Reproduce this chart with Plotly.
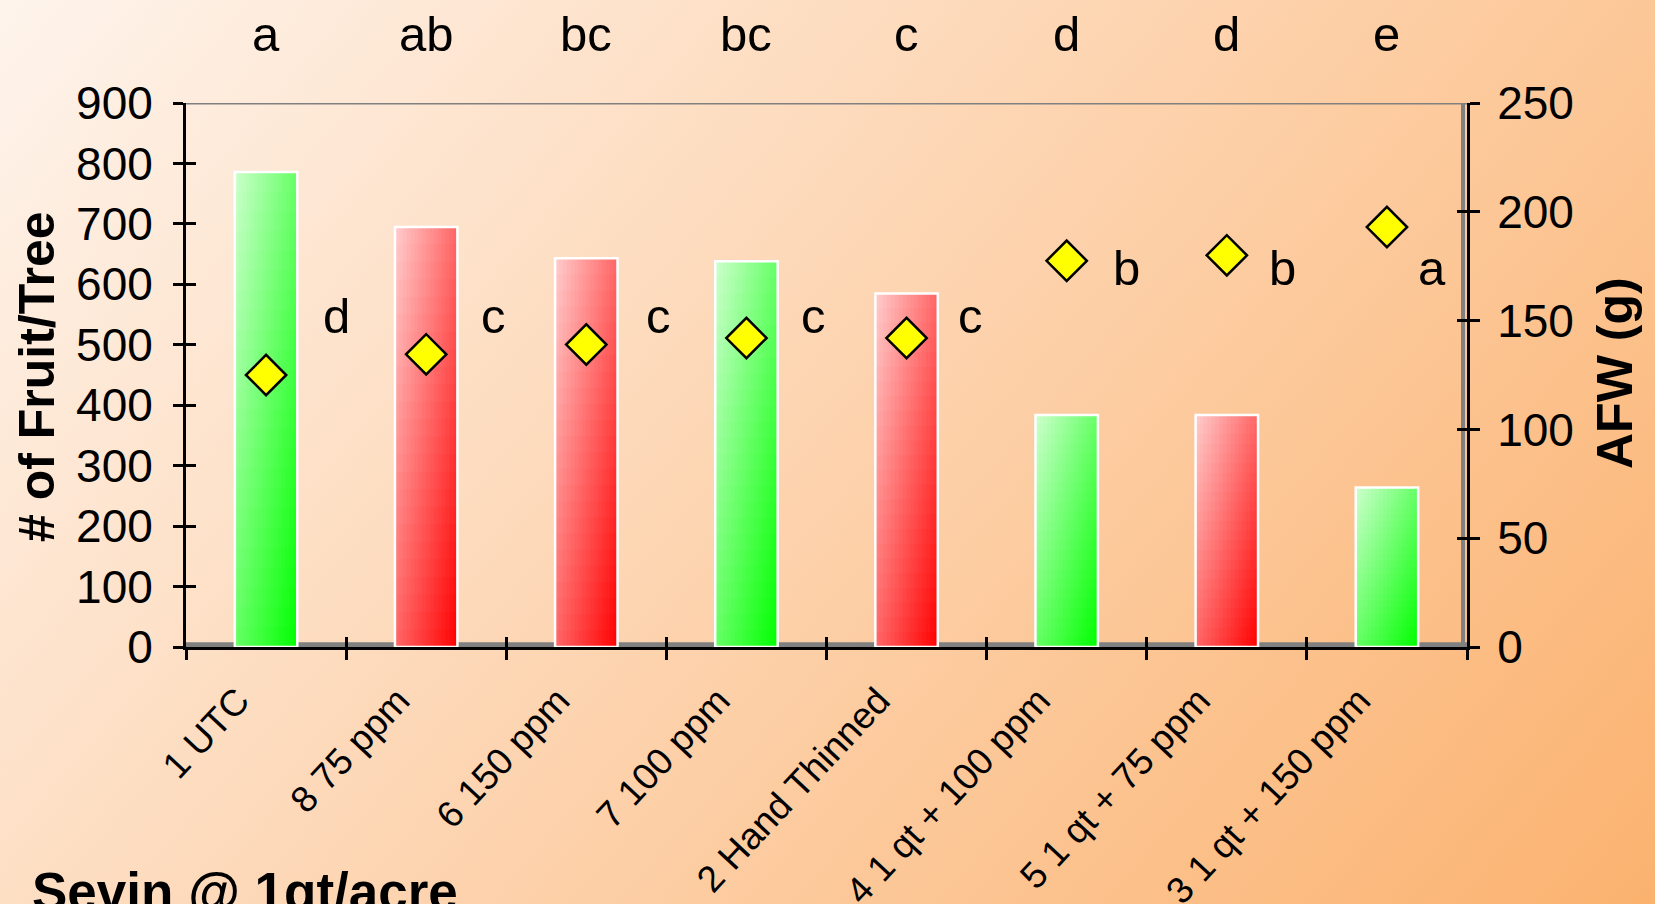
import base64
import plotly.graph_objects as go

# ---------------- data ----------------
categories = ["1 UTC", "8 75 ppm", "6 150 ppm", "7 100 ppm", "2 Hand Thinned",
              "4 1 qt + 100 ppm", "5 1 qt + 75 ppm", "3 1 qt + 150 ppm"]
fruit_per_tree = [786, 695, 643, 638, 585, 384, 384, 264]
afw_g = [125, 134.5, 139, 142, 142, 177.5, 180, 193]
fruit_letters = ["a", "ab", "bc", "bc", "c", "d", "d", "e"]
afw_letters = ["d", "c", "c", "c", "c", "b", "b", "a"]
bar_kind = ["green", "red", "red", "green", "red", "green", "red", "green"]
left_ticks = [0, 100, 200, 300, 400, 500, 600, 700, 800, 900]
right_ticks = [0, 50, 100, 150, 200, 250]

# ---------------- style ----------------
W, H = 1655, 904
ML, MR, MT, MB = 186, 188, 103, 257
PW, PH = W - ML - MR, H - MT - MB
FONT = "Liberation Sans, Arial, sans-serif"
BAR_W = 0.39
N_STRIPES, N_SEGS = 16, 24
LIGHT = {"green": (205, 255, 205), "red": (255, 205, 205)}
FULL = {"green": (0, 255, 0), "red": (255, 0, 0)}
AFW_LABEL_DX = [0.44, 0.42, 0.45, 0.42, 0.40, 0.375, 0.35, 0.28]
AFW_LABEL_Y = [152, 152, 152, 152, 152, 174, 174, 174]


def mix(kind, t):
    a, b = LIGHT[kind], FULL[kind]
    return "rgb(%d,%d,%d)" % tuple(round(a[j] + (b[j] - a[j]) * t) for j in range(3))


fig = go.Figure()

# gradient bars built from stripes x segments (slight overlap hides seams)
sw = BAR_W / N_STRIPES
for i in range(N_STRIPES):
    u = (i + 0.5) / N_STRIPES
    w_i = sw if i == N_STRIPES - 1 else sw * 1.2
    for k in range(N_SEGS):
        v = 1 - (k + 0.5) / N_SEGS  # 0 top, 1 bottom
        t = (u + v) / 2
        grow = 1.0 if k == N_SEGS - 1 else 1.1
        fig.add_trace(go.Bar(
            x=categories,
            y=[val / N_SEGS * grow for val in fruit_per_tree],
            base=[val * k / N_SEGS for val in fruit_per_tree],
            width=w_i,
            offset=-BAR_W / 2 + i * sw,
            marker=dict(color=[mix(kd, t) for kd in bar_kind], line=dict(width=0)),
            hoverinfo="skip", showlegend=False,
        ))

# white outline of each bar
fig.add_trace(go.Bar(
    x=categories, y=fruit_per_tree, width=BAR_W,
    marker=dict(color="rgba(0,0,0,0)", line=dict(color="white", width=2.5)),
    name="# of Fruit/Tree", showlegend=False,
))

# AFW diamonds
fig.add_trace(go.Scatter(
    x=categories, y=afw_g, yaxis="y2", mode="markers",
    marker=dict(symbol="diamond", size=31, color="#ffff00",
                line=dict(color="black", width=2.5)),
    name="AFW (g)", showlegend=False, cliponaxis=False,
))

# invisible helpers so the inside halves of the ticks get drawn
fig.add_trace(go.Scatter(x=categories, y=fruit_per_tree, xaxis="x3", mode="markers",
                         marker=dict(opacity=0), hoverinfo="skip", showlegend=False))
fig.add_trace(go.Scatter(x=categories, y=afw_g, yaxis="y4", mode="markers",
                         marker=dict(opacity=0), hoverinfo="skip", showlegend=False))
fig.add_trace(go.Scatter(x=categories, y=fruit_per_tree, yaxis="y3", mode="markers",
                         marker=dict(opacity=0), hoverinfo="skip", showlegend=False))

annotations = []
for i, c in enumerate(categories):
    annotations.append(dict(x=c, xref="x", y=1 + (MT - 34) / PH, yref="paper",
                            text=fruit_letters[i], showarrow=False,
                            font=dict(size=49, color="black", family=FONT),
                            xanchor="center", yanchor="middle"))
    annotations.append(dict(x=i + AFW_LABEL_DX[i], xref="x", y=AFW_LABEL_Y[i], yref="y2",
                            text=afw_letters[i], showarrow=False,
                            font=dict(size=49, color="black", family=FONT),
                            xanchor="center", yanchor="middle"))
annotations.append(dict(x=(30 - ML) / PW, xref="paper", y=(PH - (860 - MT)) / PH, yref="paper",
                        text="<b>Sevin @ 1qt/acre</b>", showarrow=False,
                        font=dict(size=53, color="black", family=FONT),
                        xanchor="left", yanchor="top"))
# axis titles
annotations.append(dict(x=(37 - ML) / PW, xref="paper", y=(ML + PH + MT - ML - 377 + 0) / PH
                        if False else (MT + PH - 377) / PH, yref="paper",
                        text="<b># of Fruit/Tree</b>", textangle=-90, showarrow=False,
                        font=dict(size=50, color="black", family=FONT),
                        xanchor="center", yanchor="middle"))
annotations.append(dict(x=(1615 - ML) / PW, xref="paper", y=(MT + PH - 373) / PH, yref="paper",
                        text="<b>AFW (g)</b>", textangle=-90, showarrow=False,
                        font=dict(size=50, color="black", family=FONT),
                        xanchor="center", yanchor="middle"))

# background gradient (mostly left->right, a little top->bottom)
gx, gy = 0.68 / W, 0.32 / H
g2 = gx * gx + gy * gy
svg = ('<svg xmlns="http://www.w3.org/2000/svg" width="%d" height="%d" '
       'viewBox="0 0 %d %d" preserveAspectRatio="none">'
       '<defs><linearGradient id="g" gradientUnits="userSpaceOnUse" x1="0" y1="0" '
       'x2="%.1f" y2="%.1f">'
       '<stop offset="0" stop-color="#fef4ec"/><stop offset="0.5" stop-color="#fdd3ae"/>'
       '<stop offset="1" stop-color="#fbb26f"/></linearGradient></defs>'
       '<rect x="0" y="0" width="%d" height="%d" fill="url(#g)"/></svg>') % (
    W, H, W, H, gx / g2, gy / g2, W, H)
src = "data:image/svg+xml;base64," + base64.b64encode(svg.encode()).decode()

axis_common = dict(showgrid=False, zeroline=False, tickcolor="black", tickwidth=3, ticklen=10)

fig.update_layout(
    width=W, height=H,
    margin=dict(l=ML, r=MR, t=MT, b=MB, autoexpand=False),
    paper_bgcolor="#fdd3ae", plot_bgcolor="rgba(0,0,0,0)",
    barmode="overlay",
    font=dict(family=FONT, color="black"),
    images=[dict(source=src, xref="paper", yref="paper", x=-ML / PW, y=1 + MT / PH,
                 sizex=W / PW, sizey=H / PH, sizing="stretch", xanchor="left",
                 yanchor="top", layer="below")],
    xaxis=dict(type="category", categoryorder="array", categoryarray=categories,
               range=[-0.5, 7.5], tickson="boundaries", ticks="outside",
               showline=True, linecolor="black", linewidth=3, tickangle=-47,
               ticklabelstandoff=14, ticklabelshift=-28,
               tickfont=dict(size=37, family=FONT), **axis_common),
    xaxis3=dict(type="category", categoryorder="array", categoryarray=categories,
                range=[-0.5, 7.5], tickson="boundaries", ticks="inside",
                overlaying="x", anchor="y", showticklabels=False, showline=False,
                **axis_common),
    yaxis=dict(range=[0, 900], tickvals=left_ticks, ticks="outside", showline=True,
               linecolor="black", linewidth=3, tickfont=dict(size=46, family=FONT),
               ticklabelstandoff=11, **axis_common),
    yaxis3=dict(range=[0, 900], tickvals=left_ticks, ticks="inside", overlaying="y",
                anchor="x", side="left", showticklabels=False, showline=False,
                **axis_common),
    yaxis2=dict(range=[0, 250], tickvals=right_ticks, ticks="outside", overlaying="y",
                side="right", anchor="x", showline=True, linecolor="black", linewidth=3,
                tickfont=dict(size=46, family=FONT), ticklabelstandoff=8,
                **axis_common),
    yaxis4=dict(range=[0, 250], tickvals=right_ticks, ticks="inside", overlaying="y",
                side="right", anchor="x", showticklabels=False, showline=False,
                **axis_common),
    shapes=[
        dict(type="rect", xref="paper", yref="y", x0=0, x1=1, y0=0, y1=8,
             fillcolor="#808080", line=dict(width=0), layer="below"),
        dict(type="line", xref="paper", yref="y", x0=0, x1=1, y0=900, y1=900,
             line=dict(color="#808080", width=3), layer="below"),
        dict(type="line", xref="paper", yref="y", x0=1 - 4 / PW, x1=1 - 4 / PW, y0=0, y1=900,
             line=dict(color="#808080", width=4), layer="below"),
    ],
    annotations=annotations,
)

fig.write_html("out.html", config={"displayModeBar": False},
               post_script="document.body.style.margin='0';document.body.style.overflow='hidden';")
